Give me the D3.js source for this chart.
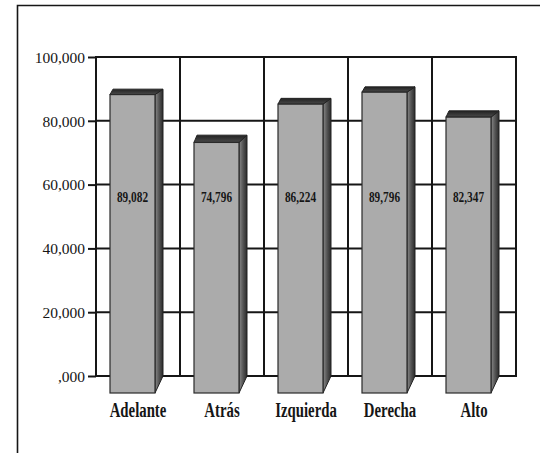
<!DOCTYPE html>
<html>
<head>
<meta charset="utf-8">
<script src="https://cdn.jsdelivr.net/npm/d3@7"></script>
<style>
  html, body { margin: 0; padding: 0; background: #fff; }
  svg { display: block; }
</style>
</head>
<body>
<svg id="chart" width="540" height="453"></svg>
<script>
// ---- data ----
const categories = ["Adelante", "Atrás", "Izquierda", "Derecha", "Alto"];
const values = [89082, 74796, 86224, 89796, 82347];
const valueLabels = ["89,082", "74,796", "86,224", "89,796", "82,347"];
const yTicks = [0, 20000, 40000, 60000, 80000, 100000];
const yTickLabels = [",000", "20,000", "40,000", "60,000", "80,000", "100,000"];

// ---- layout ----
const svg = d3.select("#chart");
const plot = { left: 96, right: 516, top: 57, bottom: 376 };

const x = d3.scaleBand().domain(categories).range([plot.left, plot.right]).padding(0);
const yGrid = d3.scaleLinear().domain([0, 100000]).range([plot.bottom, plot.top]);
const yFront = d3.scaleLinear().domain([0, 100000]).range([393, 58]);
const yBack = d3.scaleLinear().domain([0, 100000]).range([plot.bottom, 54]);

const ink = "#161616";

// outer frame (left + top visible)
svg.append("path")
  .attr("d", "M17.5,453 L17.5,5.5 L540,5.5")
  .attr("fill", "none").attr("stroke", ink).attr("stroke-width", 1.6);

// gradients
const defs = svg.append("defs");
const sideG = defs.append("linearGradient").attr("id", "side").attr("x1", "0").attr("x2", "1").attr("y1", "0").attr("y2", "0");
sideG.append("stop").attr("offset", "0").attr("stop-color", "#8a8a8a");
sideG.append("stop").attr("offset", "0.5").attr("stop-color", "#555");
sideG.append("stop").attr("offset", "1").attr("stop-color", "#2a2a2a");
const topG = defs.append("linearGradient").attr("id", "topf").attr("x1", "0").attr("x2", "0").attr("y1", "1").attr("y2", "0");
topG.append("stop").attr("offset", "0").attr("stop-color", "#4a4a4a");
topG.append("stop").attr("offset", "1").attr("stop-color", "#222");

// gridlines (horizontal)
svg.append("g").selectAll("line").data(yTicks).join("line")
  .attr("x1", plot.left).attr("x2", plot.right)
  .attr("y1", d => yGrid(d)).attr("y2", d => yGrid(d))
  .attr("stroke", ink).attr("stroke-width", 2);

// vertical gridlines at band boundaries
const vBounds = categories.map(c => x(c)).concat([plot.right]);
svg.append("g").selectAll("line").data(vBounds).join("line")
  .attr("x1", d => d).attr("x2", d => d)
  .attr("y1", plot.top - 1).attr("y2", plot.bottom + 1)
  .attr("stroke", ink).attr("stroke-width", 2);

// y axis ticks & labels
const yAxis = d3.axisLeft(yGrid).tickValues(yTicks).tickSize(8)
  .tickFormat((d, i) => yTickLabels[i]);
const ga = svg.append("g").attr("transform", `translate(${plot.left},0)`).call(yAxis);
ga.select(".domain").remove();
ga.selectAll(".tick line").attr("stroke", ink).attr("stroke-width", 2);
ga.selectAll(".tick text")
  .attr("x", -11).attr("dy", "0.34em")
  .attr("fill", ink)
  .style("font-family", "'Liberation Serif', 'Times New Roman', serif")
  .style("font-size", "15.5px");

// bars
const frontW = 45, insetL = 14, dxL = 3, dxR = 8;
const bars = svg.append("g").selectAll("g").data(categories).join("g");
bars.each(function (c, i) {
  const g = d3.select(this);
  const v = values[i];
  const x0 = x(c) + insetL, x1 = x0 + frontW;
  const ft = yFront(v), fb = yFront(0);
  const bt = yBack(v), bb = yBack(0);
  // side face
  g.append("path")
    .attr("d", `M${x1},${ft} L${x1 + dxR},${bt} L${x1 + dxR},${bb} L${x1},${fb} Z`)
    .attr("fill", "url(#side)").attr("stroke", "#222").attr("stroke-width", 1);
  // top face
  g.append("path")
    .attr("d", `M${x0},${ft} L${x0 + dxL},${bt} L${x1 + dxR},${bt} L${x1},${ft} Z`)
    .attr("fill", "url(#topf)").attr("stroke", "#222").attr("stroke-width", 1);
  // front face
  g.append("rect")
    .attr("x", x0).attr("y", ft).attr("width", frontW).attr("height", fb - ft)
    .attr("fill", "#ababab").attr("stroke", "#2a2a2a").attr("stroke-width", 1.2);
  // value label
  g.append("text")
    .attr("transform", `translate(${x0 + frontW / 2},${yGrid(54500)}) scale(0.78,1)`)
    .attr("text-anchor", "middle")
    .attr("fill", ink)
    .style("font-family", "'Liberation Serif', 'Times New Roman', serif")
    .style("font-weight", "bold")
    .style("font-size", "14.5px")
    .text(valueLabels[i]);
});

// category labels
svg.append("g").selectAll("text").data(categories).join("text")
  .attr("transform", c => `translate(${x(c) + x.bandwidth() / 2},417) scale(0.74,1)`)
  .attr("text-anchor", "middle")
  .attr("fill", ink)
  .style("font-family", "'Liberation Serif', 'Times New Roman', serif")
  .style("font-weight", "bold")
  .style("font-size", "20px")
  .text(c => c);
</script>
</body>
</html>
